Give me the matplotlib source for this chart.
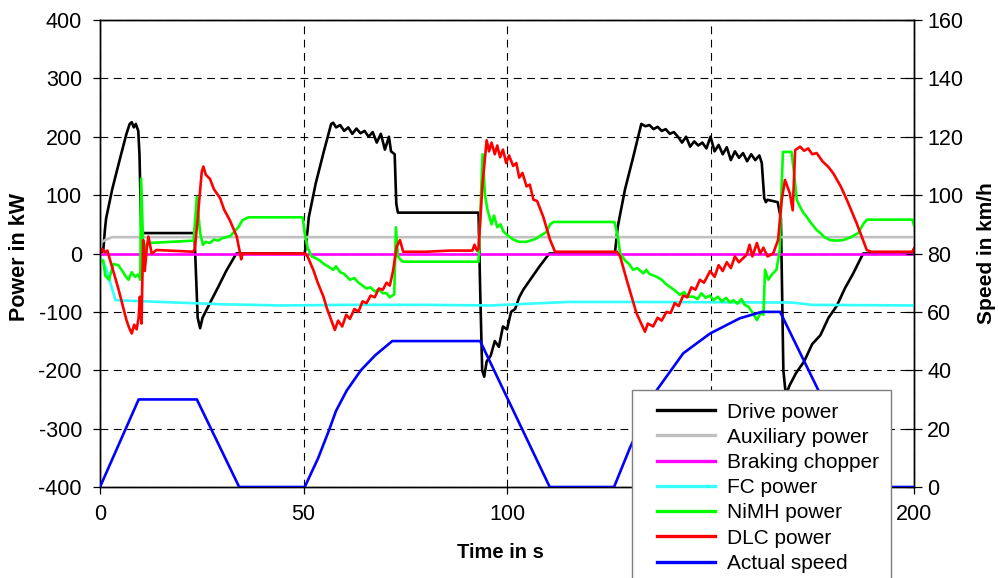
import numpy as np
import matplotlib
matplotlib.use("Agg")
import matplotlib.pyplot as plt
from matplotlib.lines import Line2D
from matplotlib.legend_handler import HandlerLine2D

plt.rcParams['font.family'] = ['Liberation Sans', 'DejaVu Sans']
plt.rcParams['axes.unicode_minus'] = False

# ---------------- data ----------------
drive_t = [0, 0.8, 1.2, 1.5, 3, 5, 6.5, 7.3, 7.8, 8.3, 8.8, 9.4, 9.7, 10.1, 10.5, 23.2, 23.5, 24.0, 24.6, 25.2,
           27, 29, 31, 33.5, 50.3, 51.0, 51.3, 53, 55, 56.8, 57.3, 58, 59, 60, 61, 62, 63, 64, 65, 66, 67, 68, 69,
           70, 71, 71.5, 72.4, 72.8, 73.2, 93.0, 93.4, 93.9, 94.4, 95, 96, 97, 98, 99, 100, 101, 102, 103, 104,
           106, 108, 110.4, 126.5, 127.2, 127.6, 129, 131, 133, 134, 135, 136, 137, 138, 139, 140, 141, 142, 143,
           144, 145, 146, 147, 148, 149, 150, 151, 152, 153, 154, 155, 156, 157, 158, 159, 160, 161, 162, 162.6,
           163.2, 163.6, 164, 166.5, 167.3, 167.9, 168.5, 169.5, 171, 173, 175, 177, 179, 181, 183, 185, 187.5,
           199.5, 200]
drive_p = [0, 5, 40, 60, 110, 165, 205, 222, 225, 216, 222, 210, 170, 45, 35, 35, -20, -110, -128, -110,
           -85, -58, -30, 0, 0, 40, 62, 120, 175, 222, 224, 216, 220, 210, 216, 205, 214, 206, 210, 200, 208, 190,
           205, 178, 200, 175, 170, 85, 70, 70, -60, -200, -211, -185, -175, -150, -160, -125, -130, -100, -95,
           -75, -62, -42, -22, 0, 0, 45, 60, 110, 165, 222, 218, 220, 213, 217, 210, 213, 205, 208, 200, 190,
           200, 183, 192, 185, 190, 180, 200, 175, 186, 170, 182, 160, 175, 164, 172, 158, 170, 160, 168, 155,
           95, 88, 92, 88, 60, -200, -242, -225, -205, -185, -155, -140, -110, -90, -60, -35, 0,
           0, 8]

aux_t = [0, 1.5, 3, 200]
aux_p = [18, 24, 28, 28]

chopper_t = [0, 200]
chopper_p = [0, 0]

fc_t = [0, 1.5, 3.8, 15, 30, 45, 60, 80, 96, 115, 130, 170, 175, 200]
fc_p = [-5, -25, -80, -83, -87, -89, -88, -88, -89, -83, -83, -84, -88, -89]

nimh_t = [0, 0.8, 1.3, 2.2, 3.3, 4.5, 5.5, 6.2, 7.0, 7.8, 8.6, 9.4, 9.9, 10.1, 10.4, 10.7, 11.2, 12, 23.0,
          23.4, 23.8, 24.6, 25.3, 26, 27, 28, 29, 30, 32, 34, 35, 36.5, 49.8, 50.4, 51, 52, 53, 54, 55, 56,
          57.3, 58, 59, 60, 61.4, 62.5, 63.5, 64.5, 65.5, 66.5, 67.5, 68.5, 69.5, 70.4, 71.2, 72.3, 72.7, 73.2,
          74.0, 74.5, 93.0, 93.4, 94.0, 94.6, 95.2, 96.2, 96.8, 97.6, 98.4, 99.1, 100, 101.5, 103, 104.8, 107,
          109.7, 110.6, 111.4, 126.4, 127.2, 127.8, 129, 130, 131, 132, 133.5, 134.2, 135, 136.8, 138, 139,
          140, 141, 142.5, 143.5, 144.5, 145.8, 146.8, 147.8, 148.8, 149.8, 150.8, 151.8, 152.8, 153.8, 154.8,
          155.6, 156.6, 157.6, 158.4, 159.3, 160.2, 161.4, 162.4, 163.0, 163.4, 164.2, 165.2, 166.2, 167.0,
          167.4, 167.8, 169.9, 170.5, 171.2, 172, 172.8, 173.6, 174.4, 175.2, 176.1, 177, 178, 179.4, 181,
          182.6, 184.5, 186.3, 187.5, 188.4, 199.6, 200]
nimh_p = [-14, -12, -38, -45, -18, -20, -30, -38, -45, -32, -40, -36, -45, 128, 60, -10, 15, 18, 22,
          60, 97, 35, 15, 20, 18, 24, 22, 26, 30, 45, 57, 62, 62, 30, 10, -5, -8, -12, -18, -22,
          -28, -22, -32, -35, -45, -42, -50, -55, -60, -58, -65, -62, -68, -68, -75, -70, 45, -5,
          -12, -14, -14, 60, 170, 100, 75, 50, 65, 45, 50, 38, 32, 24, 20, 20, 25,
          37, 50, 54, 54, 30, 0, -12, -18, -28, -25, -34, -28, -35, -40, -45, -52,
          -57, -62, -71, -66, -74, -74, -78, -68, -76, -72, -80, -74, -82, -76, -84,
          -80, -86, -78, -88, -91, -100, -114, -101, -105, -28, -45, -35, -28, 5,
          100, 174, 174, 140, 92, 80, 70, 63, 55, 48, 40, 35, 28, 23, 22,
          23, 28, 35, 50, 58, 58, 48]

dlc_t = [0, 0.5, 1.2, 1.8, 2.5, 4.5, 6.5, 7.2, 7.8, 8.4, 9.0, 9.5, 9.8, 10.2, 10.6, 11.0, 11.5, 11.9, 12.7,
         13.9, 22.9, 23.3, 24.0, 25.0, 25.4, 26.0, 27, 28, 29.5, 30.5, 31.9, 33.6, 34.4, 34.7, 35, 50.3, 51,
         52.4, 53.5, 54.9, 55.8, 56.5, 57.7, 58.5, 59.5, 60.5, 61.4, 62.5, 63.5, 64.5, 65.5, 66.5, 67.5, 68.5,
         69.5, 70.4, 71.2, 72.0, 72.9, 73.7, 74.5, 80, 86, 91.5, 92, 92.6, 93.0, 94, 95, 95.6, 96.2, 97, 97.6,
         98.3, 99, 99.8, 100.5, 101.5, 102.3, 103, 103.8, 104.8, 105.6, 106.5, 107.4, 108.9, 110.6, 111.8,
         127.0, 127.8, 129.4, 131.8, 133.9, 134.6, 135.9, 137, 138, 139.2, 140.2, 141.2, 142.2, 143.3, 144.3,
         145.3, 146.3, 147.4, 148.4, 149.9, 151, 152, 153, 154, 155, 156, 157, 158.9, 159.6, 160.3, 161.4,
         162.2, 163, 164, 165.4, 166.6, 167.5, 168.3, 169.5, 170.2, 170.8, 172, 173, 174, 175, 176.1, 177.5,
         179, 180.2, 182, 183.5, 185.9, 188.4, 189.5, 199.6, 200]
dlc_p = [0, 8, 2, 5, -12, -60, -114, -128, -137, -122, -130, -110, -74, -120, 23, -30, 10, 29, 0,
         6, 3, 8, 60, 140, 149, 135, 128, 110, 95, 75, 57, 29, 0, -10, 0, 0, -5,
         -28, -50, -74, -95, -108, -131, -115, -125, -105, -112, -95, -100, -82, -85, -72, -75, -60,
         -62, -50, -55, -30, 12, 23, 3, 3, 5, 5, 15, 5, 8, 120, 194, 175, 190, 170, 185,
         165, 178, 155, 168, 150, 155, 130, 138, 115, 118, 92, 90, 63, 23, 3,
         3, -5, -45, -102, -134, -120, -125, -110, -115, -100, -102, -85, -90, -72, -75,
         -58, -62, -45, -50, -30, -40, -20, -30, -15, -25, -5, -15, -2, 15, -5, 18,
         0, 10, -5, 0, 23, 92, 126, 103, 74, 177, 183, 176, 180, 170, 172, 158,
         148, 137, 115, 92, 52, 6, 3, 3, 8]

speed_t = [0, 9.5, 23.8, 34.2, 50.3, 53.6, 56.2, 58, 60.6, 64.1, 67.6, 71.8, 93.4, 110.5, 126.3, 130.2,
           136.8, 143.3, 149.9, 157.2, 162.6, 167.1, 188.1, 200]
speed_v = [0, 30, 30, 0, 0, 9.9, 19.2, 26.1, 33, 40, 45.1, 50, 50, 0, 0, 13.4,
           33.2, 45.8, 52.6, 57.8, 60, 60, 0, 0]

x_ticks = [0, 50, 100, 150, 200]
p_ticks = [-400, -300, -200, -100, 0, 100, 200, 300, 400]
v_ticks = [0, 20, 40, 60, 80, 100, 120, 140, 160]

# ---------------- figure ----------------
W, H = 998, 578
fig = plt.figure(figsize=(W / 100, H / 100), dpi=100)
ax = fig.add_axes([100 / W, 1 - 487 / H, 814 / W, 467 / H])
ax2 = ax.twinx()

lw = 1.9
ax.plot(drive_t, drive_p, color='black', lw=lw, label='Drive power', zorder=3)
ax.plot(aux_t, aux_p, color='#c0c0c0', lw=lw, label='Auxiliary power', zorder=3)
ax.plot(chopper_t, chopper_p, color='#ff00ff', lw=lw, label='Braking chopper', zorder=3)
ax.plot(fc_t, fc_p, color='#33ffff', lw=lw, label='FC power', zorder=3)
ax.plot(nimh_t, nimh_p, color='#00ff00', lw=lw, label='NiMH power', zorder=3)
ax.plot(dlc_t, dlc_p, color='#ff0000', lw=lw, label='DLC power', zorder=3)
ax2.plot(speed_t, speed_v, color='#0000ff', lw=lw, label='Actual speed', zorder=3)

ax.set_xlim(0, 200)
ax.set_ylim(-400, 400)
ax2.set_ylim(0, 160)
ax.set_xticks(x_ticks)
ax.set_yticks(p_ticks)
ax2.set_yticks(v_ticks)

grid_style = dict(color='black', lw=0.8, linestyle=(0, (7, 5)))
ax.grid(True, axis='both', **grid_style)
ax.set_axisbelow(True)

fs = 15.5
ax.tick_params(axis='x', direction='out', length=5, width=0.9, labelsize=fs, pad=7)
ax.tick_params(axis='y', direction='out', length=5, width=0.9, labelsize=fs, pad=8)
ax2.tick_params(axis='y', direction='inout', length=11, width=0.9, labelsize=fs, pad=4)
for a in (ax, ax2):
    for s in a.spines.values():
        s.set_linewidth(1.0)
        s.set_color('black')

ax.set_xlabel('Time in s', fontsize=14.5, fontweight='bold', va='center')
ax.xaxis.set_label_coords(0.492, -0.141)
ax.set_ylabel('Power in kW', fontsize=15.5, fontweight='bold', va='center')
ax.yaxis.set_label_coords(-0.099, 0.4925)
ax2.set_ylabel('Speed in km/h', fontsize=15, fontweight='bold', va='center', rotation=90)
ax2.yaxis.set_label_coords(1.0885, 0.501)


class PadHandler(HandlerLine2D):
    def __init__(self, lpad, **kw):
        super().__init__(**kw)
        self.lpad = lpad

    def get_xdata(self, legend, xdescent, ydescent, width, height, fontsize):
        xd = np.array([-xdescent + self.lpad, -xdescent + width])
        return xd, xd


handles = ax.get_lines() + ax2.get_lines()
handles = [h for h in handles if h.get_label() and not h.get_label().startswith('_')]
leg = fig.legend(handles=handles, labels=[h.get_label() for h in handles],
                 loc='upper left', bbox_to_anchor=(632 / W, 1 - 390 / H),
                 bbox_transform=fig.transFigure, fontsize=15, frameon=True, fancybox=False,
                 borderpad=0.6, borderaxespad=0, handlelength=3.39, handletextpad=0.55,
                 labelspacing=0.3, handler_map={Line2D: PadHandler(9)})
leg.get_frame().set_edgecolor('#7f7f7f')
leg.get_frame().set_linewidth(1.0)
leg.get_frame().set_alpha(1)
for line in leg.get_lines():
    line.set_linewidth(2.4)

fig.savefig('out.png', dpi=100)
